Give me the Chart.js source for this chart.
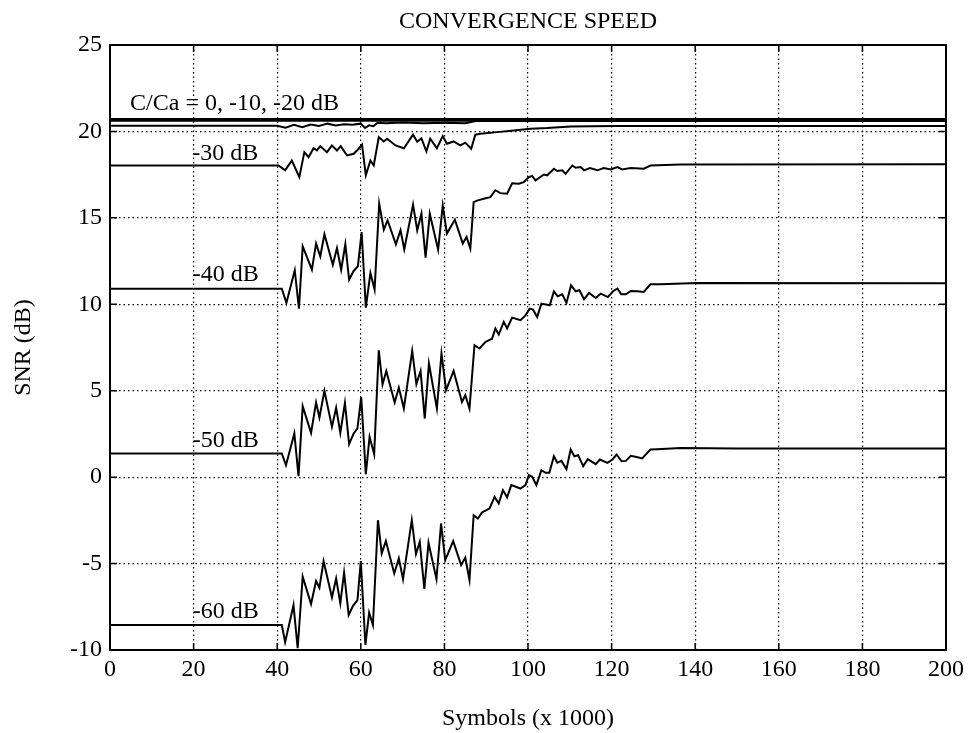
<!DOCTYPE html>
<html>
<head>
<meta charset="utf-8">
<title>Convergence speed</title>
<script src="https://cdn.jsdelivr.net/npm/chart.js@4.4.0/dist/chart.umd.min.js"></script>
<style>
  html, body { margin: 0; padding: 0; background: #fff; }
</style>
</head>
<body>
<canvas id="grafico" width="969" height="733"></canvas>
<script>
// Datos (x en miles de simbolos, y en dB)
const xTicks = [0, 20, 40, 60, 80, 100, 120, 140, 160, 180, 200];
const yTicks = [-10, -5, 0, 5, 10, 15, 20, 25];

const x0dB = [0, 200];
const y0dB = [20.72, 20.72];

const x10dB = [0, 200];
const y10dB = [20.62, 20.62];

const x20dB = [0, 40, 42, 44, 46, 48, 50, 52, 54, 56, 58, 60, 61, 62, 63, 64, 66, 70, 75, 80, 85, 87.5, 200];
const y20dB = [20.33, 20.33, 20.22, 20.38, 20.25, 20.4, 20.32, 20.45, 20.35, 20.42, 20.38, 20.45, 20.2, 20.35, 20.3, 20.5, 20.48, 20.52, 20.48, 20.5, 20.48, 20.6, 20.6];

const x30dB = [0, 40.3, 41.9, 43.5, 45.3, 46.5, 47.5, 48.7, 49.5, 50.3, 51.9, 53.1, 54.3, 55.2, 56.7, 58.3, 59.5, 60.3, 61.2, 62.3, 63.1, 64.3, 65.5, 66.3, 68.3, 70.3, 72.5, 73.5, 74.5, 75.7, 76.6, 78.2, 79.6, 80.6, 82.2, 83.8, 85.0, 86.4, 87.4, 88.6, 92.6, 96.6, 100.6, 104.6, 110.2, 120.5, 200];
const y30dB = [18.03, 18.03, 17.75, 18.32, 17.36, 18.8, 18.51, 19.03, 18.9, 19.15, 18.8, 19.19, 18.9, 19.15, 18.61, 18.71, 19.0, 19.23, 17.46, 18.32, 18.03, 19.67, 19.42, 19.58, 19.19, 19.03, 19.81, 19.4, 19.6, 18.84, 19.58, 19.03, 19.73, 19.29, 19.42, 19.19, 19.35, 19.0, 19.81, 19.86, 19.96, 20.06, 20.16, 20.2, 20.29, 20.31, 20.32];

const x40dB = [0, 41.1, 42.2, 44.2, 45.2, 46.1, 48.3, 49.3, 50.3, 51.3, 53.3, 54.3, 55.3, 56.3, 57.2, 58.3, 59.3, 60.2, 61.2, 62.3, 63.3, 64.4, 65.5, 66.4, 68.4, 69.5, 70.4, 72.5, 73.5, 74.5, 75.5, 76.5, 78.5, 79.6, 80.6, 82.5, 84.4, 85.3, 86.2, 87.0, 87.8, 89.4, 91.0, 92.2, 93.4, 95.0, 96.2, 97.8, 99.0, 100.2, 101.0, 101.8, 103.8, 104.6, 106.2, 107.0, 108.2, 109.0, 110.6, 111.4, 112.6, 113.4, 114.8, 116.6, 118.1, 119.8, 121.4, 122.5, 124.6, 127.7, 129.3, 136.5, 200];
const y40dB = [10.9, 10.9, 10.08, 11.97, 9.75, 13.35, 12.0, 13.51, 12.77, 14.05, 12.29, 13.25, 12.0, 13.47, 11.43, 11.93, 12.2, 14.18, 9.81, 11.81, 10.85, 15.82, 14.32, 14.86, 13.47, 14.28, 13.18, 15.76, 14.28, 15.24, 12.7, 15.24, 13.16, 15.72, 14.09, 14.89, 13.51, 13.89, 13.22, 15.91, 16.0, 16.1, 16.2, 16.6, 16.43, 16.4, 17.0, 16.97, 17.07, 17.36, 17.42, 17.17, 17.51, 17.46, 17.84, 17.71, 17.75, 17.55, 18.03, 17.9, 17.94, 17.75, 17.88, 17.75, 17.88, 17.8, 17.94, 17.8, 17.88, 17.84, 18.03, 18.09, 18.1];

const x50dB = [0, 41.1, 42.1, 44.1, 45.1, 46.1, 48.1, 49.3, 50.1, 51.3, 53.1, 54.1, 55.1, 56.2, 57.2, 58.3, 59.2, 60.1, 61.2, 62.1, 63.2, 64.3, 65.2, 66.1, 68.1, 69.1, 70.3, 72.3, 73.3, 74.3, 75.3, 76.3, 78.2, 79.3, 80.4, 82.2, 84.2, 85.0, 86.0, 87.2, 88.4, 89.8, 91.4, 92.2, 93.0, 94.2, 95.0, 96.2, 98.2, 99.4, 100.4, 101.2, 102.2, 103.2, 105.2, 106.2, 107.1, 108.2, 109.2, 110.3, 111.4, 112.3, 113.4, 114.6, 116.2, 117.4, 119.1, 120.4, 121.4, 122.3, 123.4, 124.6, 126.1, 127.7, 129.3, 131.7, 140.5, 200];
const y50dB = [1.37, 1.37, 0.69, 2.53, 0.06, 4.1, 2.56, 4.32, 3.45, 4.99, 2.91, 4.01, 2.56, 4.29, 1.91, 2.53, 2.82, 4.64, 0.17, 2.33, 1.33, 7.34, 5.36, 6.14, 4.32, 5.18, 3.97, 7.3, 5.38, 6.14, 3.39, 6.57, 3.97, 7.15, 5.03, 6.14, 4.35, 4.74, 3.97, 7.63, 7.44, 7.82, 8.01, 8.6, 8.25, 8.98, 8.6, 9.23, 9.08, 9.36, 9.75, 9.69, 9.27, 10.04, 9.94, 10.75, 10.46, 10.58, 10.08, 11.1, 10.75, 10.81, 10.29, 10.66, 10.36, 10.62, 10.42, 10.77, 10.91, 10.58, 10.58, 10.77, 10.75, 10.71, 11.16, 11.16, 11.23, 11.22];

const x60dB = [0, 41.1, 41.9, 43.9, 44.9, 46.1, 48.1, 49.3, 50.1, 51.1, 53.1, 54.1, 55.1, 56.0, 57.1, 58.1, 59.2, 60.0, 61.1, 62.0, 62.9, 64.1, 65.0, 66.0, 68.0, 69.1, 70.1, 72.2, 73.2, 74.1, 75.2, 76.2, 78.1, 79.2, 80.2, 82.1, 84.0, 85.0, 86.0, 87.0, 88.0, 89.0, 90.8, 92.0, 93.0, 94.0, 95.0, 96.0, 98.2, 99.4, 100.2, 101.0, 102.0, 103.2, 104.2, 105.1, 106.2, 107.0, 108.0, 109.2, 110.2, 111.1, 112.0, 113.2, 114.3, 116.2, 117.2, 119.0, 120.2, 121.2, 122.4, 123.4, 124.6, 126.0, 127.3, 129.3, 130.9, 136.5, 150, 200];
const y60dB = [-8.55, -8.55, -9.55, -7.4, -9.9, -5.76, -7.34, -6.01, -6.4, -4.86, -6.96, -5.86, -7.3, -5.53, -7.98, -7.46, -7.11, -4.86, -9.71, -7.84, -8.55, -2.49, -4.41, -3.7, -5.57, -4.7, -5.9, -2.49, -4.45, -3.74, -6.47, -3.8, -5.9, -2.68, -4.8, -3.7, -5.09, -4.66, -5.95, -2.2, -2.39, -2.04, -1.81, -1.14, -1.52, -0.75, -1.17, -0.46, -0.66, -0.46, 0.12, 0.02, -0.46, 0.4, 0.25, 0.25, 1.21, 0.83, 0.94, 0.46, 1.6, 1.21, 1.27, 0.64, 1.04, 0.75, 1.02, 0.83, 1.02, 1.31, 0.92, 0.94, 1.23, 1.17, 1.08, 1.6, 1.62, 1.69, 1.66, 1.65];

// Textos dentro del grafico (en unidades de los ejes)
const etiquetas = [
  { texto: 'C/Ca = 0, -10, -20 dB', x: 4.8, y: 21.6 },
  { texto: '-30 dB', x: 19.7, y: 18.7 },
  { texto: '-40 dB', x: 19.8, y: 11.7 },
  { texto: '-50 dB', x: 19.8, y: 2.1 },
  { texto: '-60 dB', x: 19.8, y: -7.8 }
];

const fuente = 'Liberation Serif, Times New Roman, serif';

function serie(xs, ys) {
  return {
    data: xs.map((x, i) => ({ x: x, y: ys[i] })),
    borderColor: '#000',
    borderWidth: 2,
    pointRadius: 0,
    tension: 0,
    fill: false
  };
}

// Marco, marcas hacia adentro, titulo y textos
const marcoPlugin = {
  id: 'marco',
  afterDatasetsDraw(chart) {
    const ctx = chart.ctx;
    const a = chart.chartArea;
    const sx = chart.scales.x, sy = chart.scales.y;
    ctx.save();
    ctx.strokeStyle = '#000';
    ctx.lineWidth = 2;
    ctx.strokeRect(a.left, a.top, a.right - a.left, a.bottom - a.top);

    ctx.lineWidth = 1.5;
    ctx.beginPath();
    xTicks.forEach(v => {
      const p = sx.getPixelForValue(v);
      ctx.moveTo(p, a.bottom); ctx.lineTo(p, a.bottom - 7);
      ctx.moveTo(p, a.top); ctx.lineTo(p, a.top + 7);
    });
    yTicks.forEach(v => {
      const p = sy.getPixelForValue(v);
      ctx.moveTo(a.left, p); ctx.lineTo(a.left + 7, p);
      ctx.moveTo(a.right, p); ctx.lineTo(a.right - 7, p);
    });
    ctx.stroke();

    ctx.fillStyle = '#000';
    ctx.font = '24px ' + fuente;
    ctx.textBaseline = 'middle';
    ctx.textAlign = 'left';
    etiquetas.forEach(e => {
      ctx.fillText(e.texto, sx.getPixelForValue(e.x), sy.getPixelForValue(e.y));
    });

    ctx.textAlign = 'center';
    ctx.fillText('CONVERGENCE SPEED', (a.left + a.right) / 2, 22);
    ctx.restore();
  }
};

const configuracion = {
  type: 'line',
  data: {
    datasets: [
      serie(x0dB, y0dB),
      serie(x10dB, y10dB),
      serie(x20dB, y20dB),
      serie(x30dB, y30dB),
      serie(x40dB, y40dB),
      serie(x50dB, y50dB),
      serie(x60dB, y60dB)
    ]
  },
  options: {
    responsive: false,
    animation: false,
    layout: { padding: { top: 45, right: 22, left: 0, bottom: 0 } },
    plugins: {
      legend: { display: false },
      tooltip: { enabled: false }
    },
    scales: {
      x: {
        type: 'linear',
        min: 0,
        max: 200,
        afterFit: s => { s.height = 83; },
        afterBuildTicks: s => { s.ticks = xTicks.map(v => ({ value: v })); },
        ticks: { color: '#000', padding: 5, maxRotation: 0, font: { family: fuente, size: 24 } },
        grid: { color: '#000', lineWidth: 1.2, drawTicks: false },
        border: { display: false, dash: [1.5, 3] },
        title: { display: true, text: 'Symbols (x 1000)', color: '#000', padding: 0, font: { family: fuente, size: 24 } }
      },
      y: {
        type: 'linear',
        min: -10,
        max: 25,
        afterFit: s => { s.width = 110; },
        afterBuildTicks: s => { s.ticks = yTicks.map(v => ({ value: v })); },
        ticks: { color: '#000', padding: 8, font: { family: fuente, size: 24 } },
        grid: { color: '#000', lineWidth: 1.2, drawTicks: false },
        border: { display: false, dash: [1.5, 3] },
        title: { display: true, text: 'SNR (dB)', color: '#000', padding: { top: 9, bottom: 0 }, font: { family: fuente, size: 24 } }
      }
    }
  },
  plugins: [marcoPlugin]
};

const contexto = document.getElementById('grafico').getContext('2d');
const miGrafico = new Chart(contexto, configuracion);
</script>
</body>
</html>
